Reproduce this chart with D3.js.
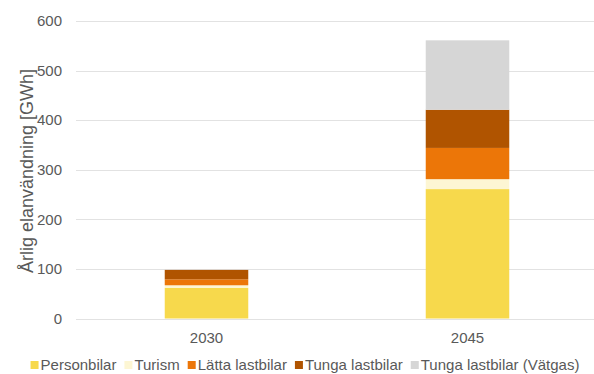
<!DOCTYPE html>
<html>
<head>
<meta charset="utf-8">
<script src="https://cdn.jsdelivr.net/npm/d3@7"></script>
<style>
  body { margin: 0; background: #fff; }
  text { font-family: "Liberation Sans", Arial, sans-serif; fill: #595959; }
</style>
</head>
<body>
<div id="chart"></div>
<script>
// data
var years = ["2030", "2045"];
var series = ["Personbilar", "Turism", "Lätta lastbilar", "Tunga lastbilar", "Tunga lastbilar (Vätgas)"];
var personbilar = [62, 261];
var turism = [5, 20];
var lattaLastbilar = [12, 63];
var tungaLastbilar = [19, 77];
var vatgas = [0, 140];
var yTicks = [0, 100, 200, 300, 400, 500, 600];
var colors = ["#f7d94c", "#fdf6d3", "#ec7608", "#b05400", "#d6d6d6"];

var width = 594, height = 374;
var margin = {top: 21, right: 0, bottom: 55, left: 76};

var rows = years.map(function(y, i) {
  return {year: y, "Personbilar": personbilar[i], "Turism": turism[i],
    "Lätta lastbilar": lattaLastbilar[i], "Tunga lastbilar": tungaLastbilar[i],
    "Tunga lastbilar (Vätgas)": vatgas[i]};
});

var svg = d3.select("#chart").append("svg")
    .attr("width", width).attr("height", height);

var x = d3.scaleBand().domain(years)
    .range([margin.left, 598]).paddingInner(0.68).paddingOuter(0.34);
var y = d3.scaleLinear().domain([0, 600]).range([height - margin.bottom - 0.5, margin.top]);

// gridlines
svg.append("g").selectAll("line").data(yTicks).enter().append("line")
    .attr("x1", margin.left).attr("x2", width)
    .attr("y1", function(d){ return Math.round(y(d)) + 0.5; })
    .attr("y2", function(d){ return Math.round(y(d)) + 0.5; })
    .attr("stroke", "#e2e2e2").attr("stroke-width", 1);

// y tick labels
svg.append("g").selectAll("text").data(yTicks).enter().append("text")
    .attr("x", 62).attr("y", function(d){ return y(d); })
    .attr("dy", "0.35em").attr("text-anchor", "end")
    .style("font-size", "15px").text(function(d){ return d; });

// x labels
svg.append("g").selectAll("text").data(years).enter().append("text")
    .attr("x", function(d){ return x(d) + x.bandwidth() / 2; })
    .attr("y", 343).attr("text-anchor", "middle")
    .style("font-size", "15px").text(function(d){ return d; });

// stacked bars
var stacked = d3.stack().keys(series)(rows);
svg.append("g").selectAll("g").data(stacked).enter().append("g")
    .attr("fill", function(d, i){ return colors[i]; })
  .selectAll("rect").data(function(d){ return d; }).enter().append("rect")
    .attr("x", function(d){ return x(d.data.year); })
    .attr("width", x.bandwidth())
    .attr("y", function(d){ return y(d[1]); })
    .attr("height", function(d){ return y(d[0]) - y(d[1]); });

// y axis title
svg.append("text")
    .attr("transform", "translate(33,171) rotate(-90)")
    .attr("text-anchor", "middle")
    .style("font-size", "18px")
    .text("Årlig elanvändning [GWh]");

// legend
var legend = svg.append("g");
var lx = 0;
series.forEach(function(s, i) {
  var item = legend.append("g").attr("transform", "translate(" + lx + ",0)");
  item.append("rect").attr("x", 0).attr("y", -4).attr("width", 8).attr("height", 8)
      .attr("fill", colors[i]);
  var t = item.append("text").attr("x", 10).attr("dy", "0.35em")
      .style("font-size", "15px").text(s);
  lx += 10 + t.node().getComputedTextLength() + 8;
});
lx -= 8;
legend.attr("transform", "translate(" + (305 - lx / 2) + ",365)");
</script>
</body>
</html>
